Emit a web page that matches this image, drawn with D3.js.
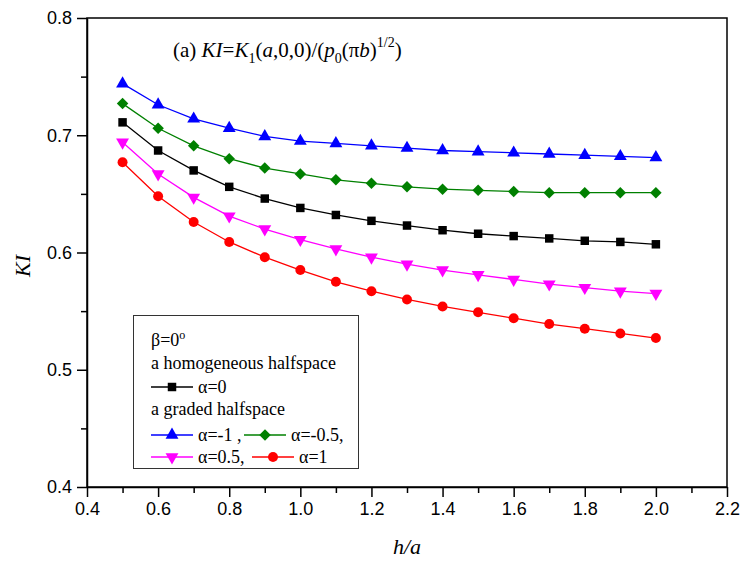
<!DOCTYPE html>
<html>
<head>
<meta charset="utf-8">
<script src="https://cdn.jsdelivr.net/npm/d3@7"></script>
<style>
  body { margin: 0; background: #fff; }
  #vis { width: 743px; height: 561px; }
  .axis text { font-family: 'Liberation Sans', Arial, sans-serif; font-size: 18px; fill: #000; }
  .axis path, .axis line { stroke: #000; stroke-width: 1.5; }
  .serif { font-family: 'Liberation Serif', 'Times New Roman', serif; fill: #000; }
</style>
</head>
<body>
<div id="vis"></div>
<script>
// h/a values
var hOverA = [0.5, 0.6, 0.7, 0.8, 0.9, 1.0, 1.1, 1.2, 1.3, 1.4, 1.5, 1.6, 1.7, 1.8, 1.9, 2.0];

// KI values
var kiAlpha0 = [0.711, 0.687, 0.670, 0.656, 0.646, 0.638, 0.632, 0.627, 0.623, 0.619, 0.616, 0.614, 0.612, 0.610, 0.609, 0.607];
var kiAlphaM1 = [0.744, 0.726, 0.714, 0.706, 0.699, 0.695, 0.693, 0.691, 0.689, 0.687, 0.686, 0.685, 0.684, 0.683, 0.682, 0.681];
var kiAlphaM05 = [0.727, 0.706, 0.691, 0.680, 0.672, 0.667, 0.662, 0.659, 0.656, 0.654, 0.653, 0.652, 0.651, 0.651, 0.651, 0.651];
var kiAlpha05 = [0.694, 0.667, 0.647, 0.631, 0.620, 0.611, 0.603, 0.596, 0.590, 0.585, 0.581, 0.577, 0.573, 0.570, 0.567, 0.565];
var kiAlpha1 = [0.677, 0.648, 0.626, 0.609, 0.596, 0.585, 0.575, 0.567, 0.560, 0.554, 0.549, 0.544, 0.539, 0.535, 0.531, 0.527];

var xTicks = [0.4, 0.6, 0.8, 1.0, 1.2, 1.4, 1.6, 1.8, 2.0, 2.2];
var yTicks = [0.4, 0.5, 0.6, 0.7, 0.8];

var series = [
    { name: 'α=0', values: kiAlpha0, color: '#000000', symbol: 'square' },
    { name: 'α=-1', values: kiAlphaM1, color: '#0000ff', symbol: 'triangleUp' },
    { name: 'α=-0.5', values: kiAlphaM05, color: '#008000', symbol: 'diamond' },
    { name: 'α=0.5', values: kiAlpha05, color: '#ff00ff', symbol: 'triangleDown' },
    { name: 'α=1', values: kiAlpha1, color: '#ff0000', symbol: 'circle' }
];

var width = 743, height = 561;
var margin = { top: 18, bottom: 74, left: 87, right: 16 };

var svg = d3.select('#vis')
    .append('svg')
    .attr('width', width)
    .attr('height', height);

var x_scale = d3.scaleLinear()
    .domain([0.4, 2.2])
    .range([margin.left, width - margin.right]);

var y_scale = d3.scaleLinear()
    .domain([0.4, 0.8])
    .range([height - margin.bottom, margin.top]);

function markerPath(type) {
    if (type === 'square') return d3.symbol().type(d3.symbolSquare).size(72)();
    if (type === 'circle') return d3.symbol().type(d3.symbolCircle).size(78)();
    if (type === 'triangleUp') return d3.symbol().type(d3.symbolTriangle).size(72)();
    if (type === 'triangleDown') return d3.symbol().type(d3.symbolTriangle).size(72)();
    if (type === 'diamond') return d3.symbol().type(d3.symbolSquare).size(66)();
}
function markerRotate(type) {
    if (type === 'triangleDown') return ' rotate(180)';
    if (type === 'diamond') return ' rotate(45)';
    return '';
}

// minor ticks
svg.append('g')
    .attr('class', 'axis')
    .attr('transform', 'translate(0,' + y_scale.range()[0] + ')')
    .call(d3.axisBottom(x_scale).tickValues(d3.range(0.5, 2.2, 0.2)).tickSize(6).tickFormat(''))
    .select('.domain').remove();

svg.append('g')
    .attr('class', 'axis')
    .attr('transform', 'translate(' + x_scale.range()[0] + ',0)')
    .call(d3.axisLeft(y_scale).tickValues(d3.range(0.45, 0.8, 0.1)).tickSize(6).tickFormat(''))
    .select('.domain').remove();

// major axes
svg.append('g')
    .attr('class', 'axis')
    .attr('transform', 'translate(0,' + y_scale.range()[0] + ')')
    .call(d3.axisBottom(x_scale).tickValues(xTicks).tickSize(10).tickSizeOuter(0).tickPadding(5).tickFormat(d3.format('.1f')));

svg.append('g')
    .attr('class', 'axis')
    .attr('transform', 'translate(' + x_scale.range()[0] + ',0)')
    .call(d3.axisLeft(y_scale).tickValues(yTicks).tickSize(10).tickSizeOuter(0).tickPadding(5).tickFormat(d3.format('.1f')));

// frame
svg.append('rect')
    .attr('x', x_scale.range()[0])
    .attr('y', y_scale.range()[1])
    .attr('width', x_scale.range()[1] - x_scale.range()[0])
    .attr('height', y_scale.range()[0] - y_scale.range()[1])
    .attr('fill', 'none')
    .attr('stroke', '#000')
    .attr('stroke-width', 1.5);

var line = d3.line()
    .x(function(d) { return x_scale(d[0]); })
    .y(function(d) { return y_scale(d[1]); });

series.forEach(function(s) {
    var pts = hOverA.map(function(h, i) { return [h, s.values[i]]; });
    svg.append('path')
        .datum(pts)
        .attr('fill', 'none')
        .attr('stroke', s.color)
        .attr('stroke-width', 1.3)
        .attr('d', line);
    svg.selectAll(null)
        .data(pts)
        .enter()
        .append('path')
        .attr('d', markerPath(s.symbol))
        .attr('transform', function(d) {
            return 'translate(' + x_scale(d[0]) + ',' + y_scale(d[1]) + ')' + markerRotate(s.symbol);
        })
        .attr('fill', s.color);
});

// axis titles
svg.append('text')
    .attr('class', 'serif')
    .attr('x', (x_scale.range()[0] + x_scale.range()[1]) / 2)
    .attr('y', 554)
    .attr('text-anchor', 'middle')
    .style('font-size', '22px')
    .style('font-style', 'italic')
    .text('h/a');

svg.append('text')
    .attr('class', 'serif')
    .attr('transform', 'translate(30,266) rotate(-90)')
    .attr('text-anchor', 'middle')
    .style('font-size', '22px')
    .style('font-style', 'italic')
    .text('KI');

// title
var title = svg.append('text')
    .attr('class', 'serif')
    .attr('x', 173)
    .attr('y', 57)
    .style('font-size', '21px');
title.append('tspan').text('(a) ');
title.append('tspan').style('font-style', 'italic').text('KI');
title.append('tspan').text('=');
title.append('tspan').style('font-style', 'italic').text('K');
title.append('tspan').attr('dy', 6).style('font-size', '14px').text('1');
title.append('tspan').attr('dy', -6).text('(');
title.append('tspan').style('font-style', 'italic').text('a');
title.append('tspan').text(',0,0)/(');
title.append('tspan').style('font-style', 'italic').text('p');
title.append('tspan').attr('dy', 6).style('font-size', '14px').text('0');
title.append('tspan').attr('dy', -6).text('(π');
title.append('tspan').style('font-style', 'italic').text('b');
title.append('tspan').text(')');
title.append('tspan').attr('dy', -10).style('font-size', '14px').text('1/2');
title.append('tspan').attr('dy', 10).text(')');

// legend
var legend = svg.append('g');
legend.append('rect')
    .attr('x', 133.5)
    .attr('y', 315.5)
    .attr('width', 225)
    .attr('height', 153)
    .attr('fill', '#fff')
    .attr('stroke', '#333')
    .attr('stroke-width', 1);

var beta = legend.append('text')
    .attr('class', 'serif')
    .attr('x', 151)
    .attr('y', 346)
    .style('font-size', '18px');
beta.append('tspan').text('β=0');
beta.append('tspan').attr('dy', -7).style('font-size', '12px').text('o');

legend.append('text')
    .attr('class', 'serif')
    .attr('x', 151)
    .attr('y', 369)
    .style('font-size', '18px')
    .text('a homogeneous halfspace');

legend.append('text')
    .attr('class', 'serif')
    .attr('x', 151)
    .attr('y', 415)
    .style('font-size', '18px')
    .text('a graded halfspace');

var legendItems = [
    { s: series[0], x: 151, y: 387, label: 'α=0' },
    { s: series[1], x: 151, y: 435, label: 'α=-1 ,' },
    { s: series[2], x: 244, y: 435, label: 'α=-0.5,' },
    { s: series[3], x: 151, y: 457, label: 'α=0.5,' },
    { s: series[4], x: 252, y: 457, label: 'α=1' }
];

legendItems.forEach(function(item) {
    legend.append('line')
        .attr('x1', item.x)
        .attr('x2', item.x + 42)
        .attr('y1', item.y)
        .attr('y2', item.y)
        .attr('stroke', item.s.color)
        .attr('stroke-width', 1.3);
    legend.append('path')
        .attr('d', markerPath(item.s.symbol))
        .attr('transform', 'translate(' + (item.x + 21) + ',' + item.y + ')' + markerRotate(item.s.symbol))
        .attr('fill', item.s.color);
    legend.append('text')
        .attr('class', 'serif')
        .attr('x', item.x + 47)
        .attr('y', item.y + 6)
        .style('font-size', '18px')
        .text(item.label);
});
</script>
</body>
</html>
